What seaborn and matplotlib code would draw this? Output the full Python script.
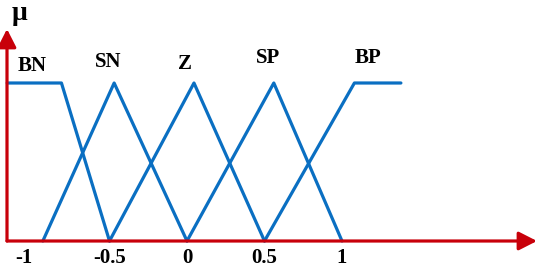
import pandas as pd
import numpy as np
import matplotlib
matplotlib.use("Agg")
import matplotlib.pyplot as plt
import seaborn as sns

# membership functions (x breakpoints, mu values)
sets = ['BN', 'SN', 'Z', 'SP', 'BP']
bn_x = [-1.16, -0.81, -0.5]
bn_mu = [1, 1, 0]
sn_x = [-0.93, -0.47, 0.0]
sn_mu = [0, 1, 0]
z_x = [-0.5, 0.045, 0.5]
z_mu = [0, 1, 0]
sp_x = [0.0, 0.56, 1.0]
sp_mu = [0, 1, 0]
bp_x = [0.5, 1.08, 1.38]
bp_mu = [0, 1, 1]

tick_vals = [-1, -0.5, 0, 0.5, 1]
tick_labels = ['-1', '-0.5', '0', '0.5', '1']

# label positions (x, mu) for the set names
label_x = [-1.0, -0.51, -0.01, 0.52, 1.17]
label_mu = [1.11, 1.13, 1.12, 1.16, 1.16]

xs = [bn_x, sn_x, z_x, sp_x, bp_x]
mus = [bn_mu, sn_mu, z_mu, sp_mu, bp_mu]
df = pd.DataFrame({
    'x': sum(xs, []),
    'mu': sum(mus, []),
    'set': sum([[s] * len(x) for s, x in zip(sets, xs)], []),
})

blue = '#0A6FC2'
red = '#C8000A'

sns.set_style('white')
plt.rcParams['font.family'] = ['Liberation Serif', 'DejaVu Serif']

fig = plt.figure(figsize=(5.4, 2.68), dpi=100)
ax = fig.add_axes([0, 0, 1, 1])

sns.lineplot(data=df, x='x', y='mu', hue='set', units='set', estimator=None,
             sort=False, palette=[blue] * len(sets), legend=False,
             linewidth=2.3, ax=ax)

# pixel mapping: x=0 at px 187, 155 px per unit; mu=0 at py 241, mu=1 at py 83
ax.set_xlim(-187 / 155, (540 - 187) / 155)
ax.set_ylim(-(268 - 241) / 158, 241 / 158)
ax.axis('off')

# axes as red arrows
x0 = -180 / 155
arrow = dict(arrowstyle='-|>,head_length=0.55,head_width=0.28', color=red,
             lw=2.3, mutation_scale=20, shrinkA=0, shrinkB=0)
ax.annotate('', xy=((537 - 187) / 155, 0), xytext=(x0, 0), arrowprops=arrow)
ax.annotate('', xy=(x0, (241 - 29) / 158), xytext=(x0, 0), arrowprops=arrow)

for s, lx, ly in zip(sets, label_x, label_mu):
    ax.text(lx, ly, s, ha='center', va='center', fontsize=15,
            fontweight='bold', color='black')

for v, t in zip(tick_vals, tick_labels):
    xx = v if v != -1 else -1.05
    ax.text(xx, -0.105, t, ha='center', va='center', fontsize=15,
            fontweight='bold', color='black')

ax.text(-167 / 155, (241 - 13) / 158, 'μ', ha='center', va='center',
        fontsize=20, fontweight='bold', color='black')

fig.savefig('out.png', dpi=100)
